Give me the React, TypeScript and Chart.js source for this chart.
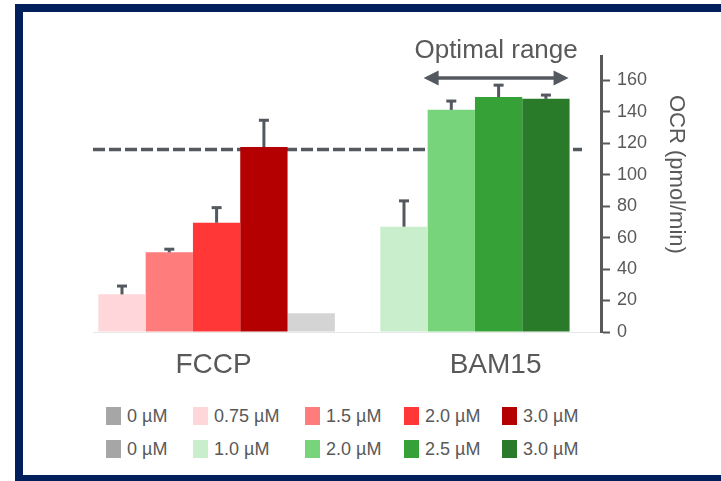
import React, { useEffect, useRef } from 'react';
import { Chart, registerables } from 'chart.js';

Chart.register(...registerables);

// ---------- data ----------
const categories = ['FCCP', 'BAM15'];

const fccpDoses = ['0 µM', '0.75 µM', '1.5 µM', '2.0 µM', '3.0 µM'];
const fccpOCR = [11.9, 23.9, 50.6, 69.4, 117.5];
const fccpErr = [0, 5.3, 2, 9.6, 17];
const fccpBarColors = ['#D4D4D4', '#FFD7DA', '#FF7C7C', '#FF3737', '#B40000'];

const bamDoses = ['0 µM', '1.0 µM', '2.0 µM', '2.5 µM', '3.0 µM'];
const bamOCR: (number | null)[] = [null, 66.9, 141.1, 149.2, 148.1];
const bamErr = [0, 16.4, 5.6, 7.6, 2.4];
const bamBarColors = ['#D4D4D4', '#C8EECB', '#77D47B', '#36A136', '#297A29'];

const legendGrey = '#A6A6A6';
// dose index drawn in each bar slot of a group (0 µM is drawn last)
const barOrder = [1, 2, 3, 4, 0];

const referenceOCR = 116;
const yMin = 0;
const yMax = 175;
const yStep = 20;
const yTitle = 'OCR (pmol/min)';
const rangeLabel = 'Optimal range';

const TEXT = '#595959';
const DARK = '#54585F';
const FONT = "'Liberation Sans', Arial, sans-serif";

const overlayPlugin = {
  id: 'overlay',
  beforeDatasetsDraw(chart: any) {
    const { ctx, chartArea, scales } = chart;
    const y = scales.y.getPixelForValue(referenceOCR);
    ctx.save();
    ctx.strokeStyle = DARK;
    ctx.lineWidth = 3.5;
    ctx.setLineDash([12, 4]);
    ctx.beginPath();
    ctx.moveTo(chartArea.left, y);
    ctx.lineTo(chartArea.right - 19, y);
    ctx.stroke();
    ctx.restore();
  },
  afterDatasetsDraw(chart: any) {
    const { ctx, chartArea, scales } = chart;
    ctx.save();
    ctx.fillStyle = DARK;
    chart.data.datasets.forEach((ds: any, i: number) => {
      const meta = chart.getDatasetMeta(i);
      meta.data.forEach((bar: any, j: number) => {
        const err = ds.errors[j];
        const v = ds.data[j].y;
        if (!err || v == null) return;
        const yTop = scales.y.getPixelForValue(v + err);
        ctx.fillRect(bar.x - 1.5, yTop, 3, bar.y - yTop);
        ctx.fillRect(bar.x - 5, yTop - 1.5, 10, 3);
      });
    });
    // optimal range arrow over BAM15 2.0 - 3.0 µM
    const b1 = chart.getDatasetMeta(1).data[1];
    const b3 = chart.getDatasetMeta(3).data[1];
    const x1 = b1.x - b1.width / 2 - 4;
    const x2 = b3.x + b3.width / 2 - 1;
    const ay = chartArea.top + 21.5;
    ctx.strokeStyle = DARK;
    ctx.lineWidth = 3.5;
    ctx.beginPath();
    ctx.moveTo(x1 + 10, ay);
    ctx.lineTo(x2 - 10, ay);
    ctx.stroke();
    ctx.beginPath();
    ctx.moveTo(x1, ay);
    ctx.lineTo(x1 + 15, ay - 7.5);
    ctx.lineTo(x1 + 15, ay + 7.5);
    ctx.closePath();
    ctx.fill();
    ctx.beginPath();
    ctx.moveTo(x2, ay);
    ctx.lineTo(x2 - 15, ay - 7.5);
    ctx.lineTo(x2 - 15, ay + 7.5);
    ctx.closePath();
    ctx.fill();
    ctx.fillStyle = TEXT;
    ctx.font = `26px ${FONT}`;
    ctx.textAlign = 'center';
    ctx.textBaseline = 'alphabetic';
    ctx.fillText(rangeLabel, (x1 + x2) / 2, chartArea.top + 1.5);
    // y axis title
    ctx.translate(chartArea.right + 75, chartArea.top + 38.5);
    ctx.rotate(Math.PI / 2);
    ctx.font = `22px ${FONT}`;
    ctx.textAlign = 'left';
    ctx.textBaseline = 'middle';
    ctx.fillText(yTitle, 0, 0);
    ctx.restore();
  },
};

function ChartCanvas() {
  const ref = useRef<HTMLCanvasElement | null>(null);
  useEffect(() => {
    if (!ref.current) return;
    Chart.defaults.font.family = FONT;
    const datasets = barOrder.map((d) => ({
      label: `${fccpDoses[d]} / ${bamDoses[d]}`,
      data: [
        { x: 0, y: fccpOCR[d] },
        { x: 1, y: bamOCR[d] },
      ],
      errors: [fccpErr[d], bamErr[d]],
      backgroundColor: [fccpBarColors[d], bamBarColors[d]],
      borderWidth: 0,
      categoryPercentage: 0.8387,
      barPercentage: 1,
    }));
    const chart = new Chart(ref.current, {
      type: 'bar',
      data: { datasets } as any,
      options: {
        animation: false,
        responsive: false,
        maintainAspectRatio: false,
        layout: { padding: { top: 56.5, left: 93, right: 0, bottom: 0 } },
        plugins: { legend: { display: false }, tooltip: { enabled: false } },
        scales: {
          x: {
            type: 'linear',
            bounds: 'data',
            offset: false,
            min: -0.4383,
            max: 1.3631,
            afterBuildTicks: (s: any) => {
              s.ticks = categories.map((_, i) => ({ value: i }));
            },
            afterFit: (s: any) => {
              s.height = 68;
            },
            grid: { display: false, drawTicks: false, offset: false },
            border: { display: true, color: '#E8E8E8', width: 1 },
            ticks: {
              autoSkip: false,
              maxRotation: 0,
              callback: (v: any) => categories[Math.round(v)] ?? '',
              font: { size: 28 },
              color: TEXT,
              padding: 16,
              labelOffset: -3,
            },
          },
          y: {
            type: 'linear',
            position: 'right',
            min: yMin,
            max: yMax,
            afterFit: (s: any) => {
              s.width = 120;
            },
            grid: {
              drawOnChartArea: false,
              drawTicks: true,
              tickLength: 9,
              tickWidth: 2,
              tickColor: TEXT,
            },
            border: { display: true, color: TEXT, width: 3 },
            ticks: {
              stepSize: yStep,
              includeBounds: false,
              font: { size: 18 },
              color: TEXT,
              padding: 7,
            },
          },
        },
      } as any,
      plugins: [overlayPlugin],
    });
    return () => chart.destroy();
  }, []);
  return (
    <canvas
      ref={ref}
      width={721}
      height={400}
      style={{ position: 'absolute', left: 0, top: 0, width: 721, height: 400, display: 'block' }}
    />
  );
}

const legendCols = [106, 193, 305, 404, 502];
const legendRows = [
  { top: 407, labels: fccpDoses, colors: [legendGrey, ...fccpBarColors.slice(1)] },
  { top: 440, labels: bamDoses, colors: [legendGrey, ...bamBarColors.slice(1)] },
];

export default function App() {
  return (
    <div
      style={{
        position: 'fixed',
        left: 0,
        top: 0,
        width: 721,
        height: 481,
        overflow: 'hidden',
        background: '#FFFFFF',
        fontFamily: FONT,
      }}
    >
      <ChartCanvas />
      {legendRows.map((row, r) =>
        row.labels.map((lab, i) => (
          <div
            key={`${r}-${i}`}
            style={{
              position: 'absolute',
              left: legendCols[i],
              top: row.top,
              height: 18,
              display: 'flex',
              alignItems: 'center',
              whiteSpace: 'nowrap',
            }}
          >
            <span style={{ width: 15, height: 18, background: row.colors[i], display: 'inline-block' }} />
            <span style={{ marginLeft: 6, fontSize: 18, lineHeight: '18px', color: TEXT }}>{lab}</span>
          </div>
        ))
      )}
      <div
        style={{
          position: 'absolute',
          left: 15,
          top: 4,
          width: 740,
          height: 479,
          boxSizing: 'border-box',
          border: '8px solid #001F5B',
          pointerEvents: 'none',
        }}
      />
    </div>
  );
}
